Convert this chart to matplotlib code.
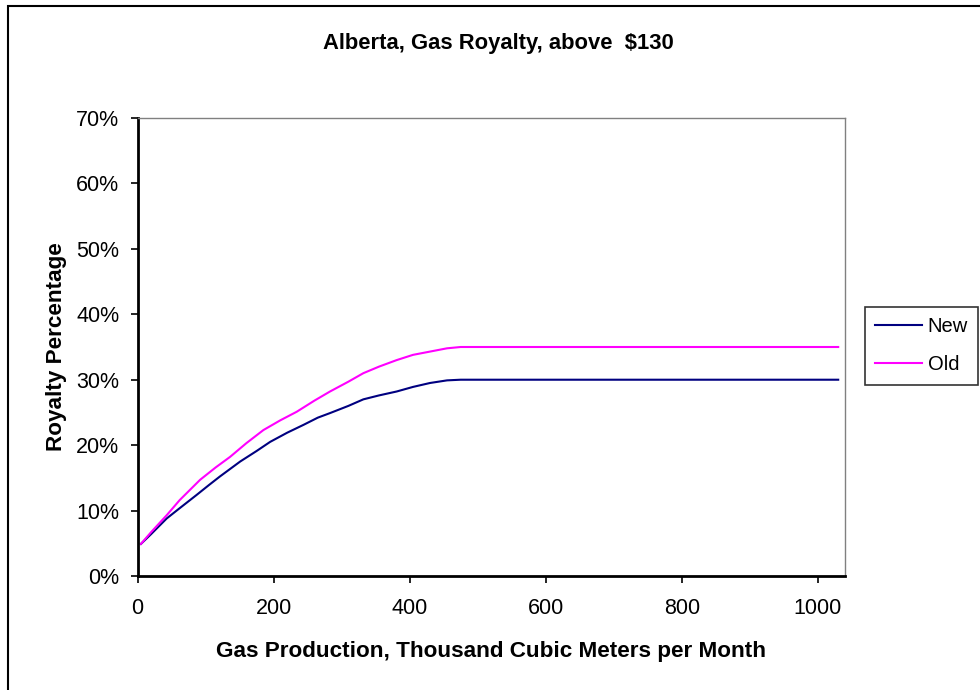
import matplotlib
matplotlib.use("Agg")
import matplotlib.pyplot as plt
from matplotlib.patches import Rectangle
from matplotlib.ticker import FuncFormatter, MultipleLocator

plt.rcParams['font.family'] = ['Liberation Sans', 'DejaVu Sans']

# gas production (thousand m3/month) and royalty rate (%)
prod_new = [5, 20, 43, 60, 87, 105, 121, 151, 175, 195, 220, 244, 265, 283,
            310, 332, 355, 381, 405, 430, 455, 475, 600, 800, 1030]
rate_new = [4.9, 6.4, 8.8, 10.2, 12.4, 13.9, 15.2, 17.5, 19.1, 20.5, 21.9,
            23.1, 24.2, 24.9, 26.0, 27.0, 27.6, 28.2, 28.9, 29.5, 29.9, 30.0,
            30.0, 30.0, 30.0]

prod_old = [5, 20, 43, 62, 92, 115, 136, 160, 185, 210, 234, 260, 283, 310,
            332, 355, 381, 405, 430, 455, 475, 600, 800, 1030]
rate_old = [4.9, 6.7, 9.3, 11.6, 14.7, 16.6, 18.2, 20.3, 22.3, 23.8, 25.1,
            26.8, 28.2, 29.7, 31.0, 32.0, 33.0, 33.8, 34.3, 34.8, 35.0,
            35.0, 35.0, 35.0]

fig = plt.figure(figsize=(9.8, 6.9), dpi=100)
ax = fig.add_axes([137.5 / 980, 114 / 690, (845 - 137.5) / 980, (576 - 118) / 690])

ax.plot(prod_new, rate_new, color='#000080', lw=1.5, label='New')
ax.plot(prod_old, rate_old, color='#FF00FF', lw=1.5, label='Old')

ax.set_xlim(0, 1040)
ax.set_ylim(0, 70)
ax.xaxis.set_major_locator(MultipleLocator(200))
ax.yaxis.set_major_locator(MultipleLocator(10))
ax.yaxis.set_major_formatter(FuncFormatter(lambda v, p: f'{v:.0f}%'))
ax.tick_params(direction='out', length=5, width=1.2, labelsize=15.5)
ax.tick_params(axis='x', pad=11)
ax.tick_params(axis='y', pad=8)

for s in ['left', 'bottom']:
    ax.spines[s].set_linewidth(2)
    ax.spines[s].set_color('black')
for s in ['top', 'right']:
    ax.spines[s].set_linewidth(1)
    ax.spines[s].set_color('#808080')

ax.set_xlabel('Gas Production, Thousand Cubic Meters per Month',
              fontsize=16.2, fontweight='bold', labelpad=16)
ax.set_ylabel('Royalty Percentage', fontsize=16.2, fontweight='bold', labelpad=7)
fig.text(498 / 980, 1 - 43 / 690, 'Alberta, Gas Royalty, above  $130',
         ha='center', va='center', fontsize=15.8, fontweight='bold')

leg = ax.legend(loc='center left', bbox_to_anchor=(1.028, 0.503), frameon=True,
                fancybox=False, edgecolor='black', fontsize=14.5,
                handlelength=2.3, handletextpad=0.3, borderpad=0.52,
                labelspacing=0.95, borderaxespad=0)
leg.get_frame().set_linewidth(1.2)

# chart border, only left and top edges fall inside the image
fig.patches.append(Rectangle((8 / 980, -0.5), 2, 0.5 + (690 - 6) / 690,
                             transform=fig.transFigure, fill=False,
                             edgecolor='black', lw=1.5))

fig.savefig('out.png', dpi=100, facecolor='white')
